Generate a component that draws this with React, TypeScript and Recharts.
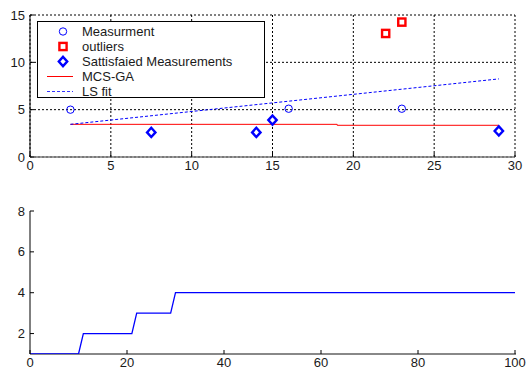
import React from 'react';
import { ComposedChart, Line, Scatter, XAxis, YAxis, CartesianGrid, Legend } from 'recharts';

// top plot: measurements and fits
const measX = [2.5, 16, 23];
const measY = [5, 5.1, 5.1];
const outX = [22, 23];
const outY = [13.05, 14.25];
const satX = [7.5, 14, 15, 29];
const satY = [2.6, 2.6, 3.9, 2.75];
const mcsX = [2.5, 19, 19, 29];
const mcsY = [3.45, 3.45, 3.35, 3.35];
const lsX = [2.5, 29];
const lsY = [3.45, 8.25];

// bottom plot: step curve
const genX = [0, 10, 11, 21, 22, 29, 30, 100];
const genY = [1, 1, 2, 2, 3, 3, 4, 4];

const topXTicks = [0, 5, 10, 15, 20, 25, 30];
const topYTicks = [0, 5, 10, 15];
const botXTicks = [0, 20, 40, 60, 80, 100];
const botYTicks = [2, 4, 6, 8];

const zip = (xs: number[], ys: number[]) => xs.map((x, i) => ({ x, y: ys[i] }));

const FONT = '"Liberation Sans", Arial, sans-serif';
const tickStyle = { fontSize: 13, fill: '#1a1a1a', fontFamily: FONT };
const BLUE = '#0000ff';
const RED = '#ff0000';

const CircleMark = (p: any) => (
  <circle cx={p.cx} cy={p.cy} r={3.7} fill="none" stroke={BLUE} strokeWidth={1} />
);
const SquareMark = (p: any) => (
  <rect x={p.cx - 3.6} y={p.cy - 3.6} width={7.2} height={7.2} fill="#fff" stroke={RED} strokeWidth={2.4} />
);
const DiamondMark = (p: any) => (
  <polygon
    points={`${p.cx},${p.cy - 4.6} ${p.cx + 4.2},${p.cy} ${p.cx},${p.cy + 4.6} ${p.cx - 4.2},${p.cy}`}
    fill="#fff"
    stroke={BLUE}
    strokeWidth={2.4}
  />
);

const legendRows = [
  { label: 'Measurment', kind: 'circle' },
  { label: 'outliers', kind: 'square' },
  { label: 'Sattisfaied Measurements', kind: 'diamond' },
  { label: 'MCS-GA', kind: 'solid' },
  { label: 'LS fit', kind: 'dash' },
];

function LegendBox() {
  return (
    <div
      style={{
        border: '1px solid #000',
        background: '#fff',
        width: 228,
        height: 77,
        fontFamily: FONT,
        fontSize: 13,
        color: '#1a1a1a',
        boxSizing: 'border-box',
        paddingTop: 2,
      }}
    >
      {legendRows.map((r) => (
        <div key={r.label} style={{ height: 15, display: 'flex', alignItems: 'center' }}>
          <svg width={44} height={15} style={{ flex: 'none', display: 'block' }}>
            {r.kind === 'circle' && <CircleMark cx={25} cy={7.5} />}
            {r.kind === 'square' && <SquareMark cx={25} cy={7.5} />}
            {r.kind === 'diamond' && <DiamondMark cx={25} cy={7.5} />}
            {r.kind === 'solid' && <line x1={9} x2={35} y1={7.5} y2={7.5} stroke={RED} strokeWidth={1} />}
            {r.kind === 'dash' && (
              <line x1={9} x2={35} y1={7.5} y2={7.5} stroke="#3333ff" strokeWidth={1} strokeDasharray="3 2" />
            )}
          </svg>
          <span style={{ lineHeight: '15px' }}>{r.label}</span>
        </div>
      ))}
    </div>
  );
}

export default function App() {
  return (
    <div style={{ position: 'absolute', left: 0, top: 0, width: 526, height: 374, background: '#fff' }}>
      {/* top: measurements */}
      <div style={{ position: 'absolute', left: 0, top: 0 }}>
        <ComposedChart width={526} height={180} margin={{ top: 15, right: 11, bottom: 0, left: 0 }}>
          <CartesianGrid stroke="#000" strokeDasharray="2 2" strokeWidth={1} />
          <XAxis
            type="number"
            dataKey="x"
            domain={[0, 30]}
            ticks={topXTicks}
            height={23}
            tickSize={-4}
            tickMargin={8}
            tick={tickStyle}
            axisLine={{ stroke: '#777', strokeWidth: 1.5 }}
            tickLine={{ stroke: '#000' }}
            allowDataOverflow
          />
          <XAxis xAxisId="t" orientation="top" type="number" domain={[0, 30]} ticks={topXTicks} height={0} tickSize={-4} tick={false} axisLine={{ stroke: '#000' }} tickLine={{ stroke: '#000' }} />
          <YAxis
            type="number"
            domain={[0, 15]}
            ticks={topYTicks}
            width={30}
            tickSize={-4}
            tickMargin={9}
            tick={tickStyle}
            axisLine={{ stroke: '#000' }}
            tickLine={{ stroke: '#000' }}
            allowDataOverflow
          />
          <YAxis yAxisId="r" orientation="right" type="number" domain={[0, 15]} ticks={topYTicks} width={0} tickSize={-4} tick={false} axisLine={{ stroke: '#777', strokeWidth: 1.5 }} tickLine={{ stroke: '#000' }} />
          <Line data={zip(mcsX, mcsY)} dataKey="y" type="linear" stroke={RED} strokeWidth={1} dot={false} isAnimationActive={false} />
          <Line data={zip(lsX, lsY)} dataKey="y" type="linear" stroke={BLUE} strokeWidth={1} strokeDasharray="3 2" dot={false} isAnimationActive={false} />
          <Scatter data={zip(measX, measY)} dataKey="y" shape={CircleMark} isAnimationActive={false} />
          <Scatter data={zip(outX, outY)} dataKey="y" shape={SquareMark} isAnimationActive={false} />
          <Scatter data={zip(satX, satY)} dataKey="y" shape={DiamondMark} isAnimationActive={false} />
          <Legend
            layout="vertical"
            align="center"
            verticalAlign="middle"
            content={() => <LegendBox />}
            wrapperStyle={{ position: 'absolute', left: 37, top: 21, width: 228, height: 77 }}
          />
        </ComposedChart>
      </div>

      {/* bottom frame line sits behind the chart so the curve at y=1 stays visible */}
      <div style={{ position: 'absolute', left: 30, top: 353, width: 486, height: 2, background: '#888' }} />

      {/* bottom: step curve */}
      <div style={{ position: 'absolute', left: 0, top: 190 }}>
        <ComposedChart width={526} height={184} margin={{ top: 21, right: 11, bottom: 0, left: 0 }}>
          <XAxis
            type="number"
            dataKey="x"
            domain={[0, 100]}
            ticks={botXTicks}
            height={20}
            tickSize={-4}
            tickMargin={8}
            tick={tickStyle}
            axisLine={false}
            tickLine={{ stroke: '#000' }}
            allowDataOverflow
          />
          <XAxis xAxisId="t" orientation="top" type="number" domain={[0, 100]} ticks={botXTicks} height={0} tickSize={-4} tick={false} axisLine={{ stroke: '#000' }} tickLine={{ stroke: '#000' }} />
          <YAxis
            type="number"
            domain={[1, 8]}
            ticks={botYTicks}
            width={30}
            tickSize={-4}
            tickMargin={9}
            tick={tickStyle}
            axisLine={{ stroke: '#000' }}
            tickLine={{ stroke: '#000' }}
            allowDataOverflow
          />
          <YAxis yAxisId="r" orientation="right" type="number" domain={[1, 8]} ticks={botYTicks} width={0} tickSize={-4} tick={false} axisLine={{ stroke: '#777', strokeWidth: 1.5 }} tickLine={{ stroke: '#000' }} />
          <Line data={zip(genX, genY)} dataKey="y" type="linear" stroke={BLUE} strokeWidth={1.3} dot={false} isAnimationActive={false} />
        </ComposedChart>
      </div>
    </div>
  );
}
